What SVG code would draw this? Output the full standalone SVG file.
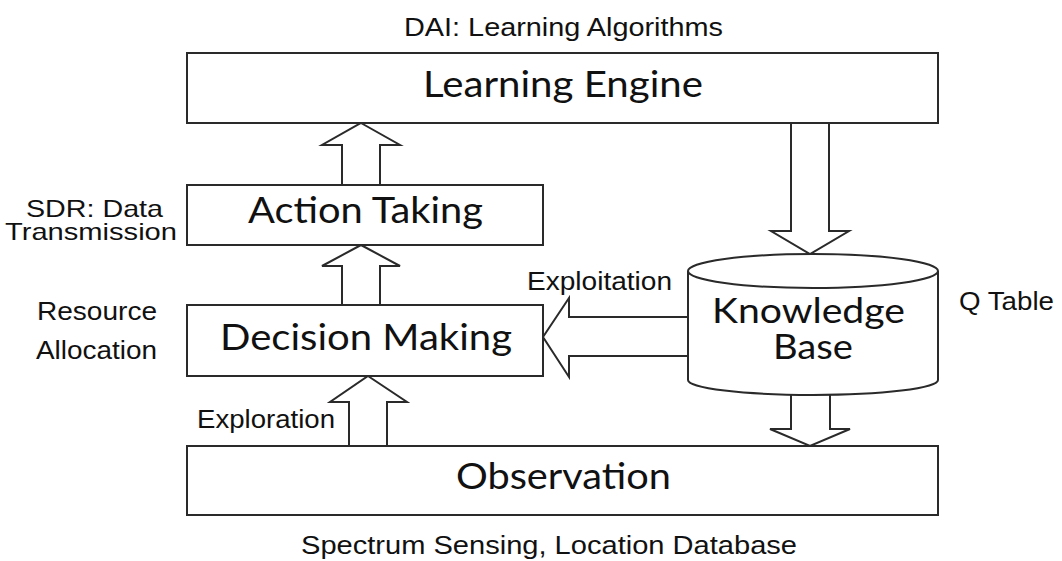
<svg xmlns="http://www.w3.org/2000/svg" width="1062" height="561" viewBox="0 0 1062 561">
  <style>
    .box { fill: #ffffff; stroke: #2a2a2a; stroke-width: 2; }
    .arrow { fill: #ffffff; stroke: #2a2a2a; stroke-width: 2; stroke-linejoin: miter; }
    .main { font-family: Lato, "Open Sans", sans-serif; font-size: 36px; fill: #111111; text-anchor: middle; }
    .kb { font-size: 34px; }
    .side { font-family: "Liberation Sans", Arial, sans-serif; font-size: 26px; fill: #111111; }
    .tight { font-size: 24px; }
  </style>
  <rect width="1062" height="561" fill="#ffffff"/>

  <!-- block arrows between the stages -->
  <g id="connectors">
    <!-- Action Taking up to Learning Engine -->
    <polygon class="arrow" points="361,123 400,145 380,145 380,186 342,186 342,145 322,145"/>
    <!-- Decision Making up to Action Taking -->
    <polygon class="arrow" points="361,245 400,266 380,266 380,306 342,306 342,266 322,266"/>
    <!-- Observation up to Decision Making (exploration) -->
    <polygon class="arrow" points="368,376 407,402 387,402 387,447 349,447 349,402 330,402"/>
    <!-- Learning Engine down to Knowledge Base -->
    <polygon class="arrow" points="791,122 829,122 829,231 849,231 810,254 771,231 791,231"/>
    <!-- Knowledge Base down to Observation -->
    <polygon class="arrow" points="791,388 830,388 830,429 850,429 810,446 770,429 791,429"/>
    <!-- Knowledge Base left to Decision Making (exploitation) -->
    <polygon class="arrow" points="543,337 569,298 569,317 696,317 696,356 569,356 569,377"/>
  </g>

  <g id="learning-engine">
    <rect class="box" x="187" y="53" width="751" height="70"/>
    <text class="main" x="563" y="97" textLength="280" lengthAdjust="spacingAndGlyphs">Learning Engine</text>
  </g>

  <g id="action-taking">
    <rect class="box" x="187" y="185" width="356" height="60"/>
    <text class="main" x="365.5" y="223" textLength="235" lengthAdjust="spacingAndGlyphs">Action Taking</text>
  </g>

  <g id="decision-making">
    <rect class="box" x="187" y="305" width="356" height="71"/>
    <text class="main" x="366" y="350" textLength="292" lengthAdjust="spacingAndGlyphs">Decision Making</text>
  </g>

  <g id="knowledge-base">
    <path class="box" d="M688,272 L688,380 A125,15 0 0 0 938,380 L938,272 Z"/>
    <ellipse class="box" cx="813" cy="271" rx="125" ry="17"/>
    <text class="main kb" x="808.5" y="323" textLength="193" lengthAdjust="spacingAndGlyphs">Knowledge</text>
    <text class="main kb" x="813" y="359" textLength="80" lengthAdjust="spacingAndGlyphs">Base</text>
  </g>

  <g id="observation">
    <rect class="box" x="187" y="446" width="751" height="69"/>
    <text class="main" x="563.5" y="489" textLength="215" lengthAdjust="spacingAndGlyphs">Observation</text>
  </g>

  <!-- annotations beside the stages -->
  <g id="labels">
    <text class="side" x="404" y="36" textLength="319" lengthAdjust="spacingAndGlyphs">DAI: Learning Algorithms</text>
    <text class="side tight" x="26" y="217" textLength="137" lengthAdjust="spacingAndGlyphs">SDR: Data</text>
    <text class="side tight" x="5" y="240" textLength="172" lengthAdjust="spacingAndGlyphs">Transmission</text>
    <text class="side" x="37" y="320" textLength="120" lengthAdjust="spacingAndGlyphs">Resource</text>
    <text class="side" x="36" y="359" textLength="121" lengthAdjust="spacingAndGlyphs">Allocation</text>
    <text class="side" x="197" y="428" textLength="138" lengthAdjust="spacingAndGlyphs">Exploration</text>
    <text class="side" x="527" y="290" textLength="145" lengthAdjust="spacingAndGlyphs">Exploitation</text>
    <text class="side" x="959" y="310" textLength="95" lengthAdjust="spacingAndGlyphs">Q Table</text>
    <text class="side" x="301" y="554" textLength="496" lengthAdjust="spacingAndGlyphs">Spectrum Sensing, Location Database</text>
  </g>
</svg>
